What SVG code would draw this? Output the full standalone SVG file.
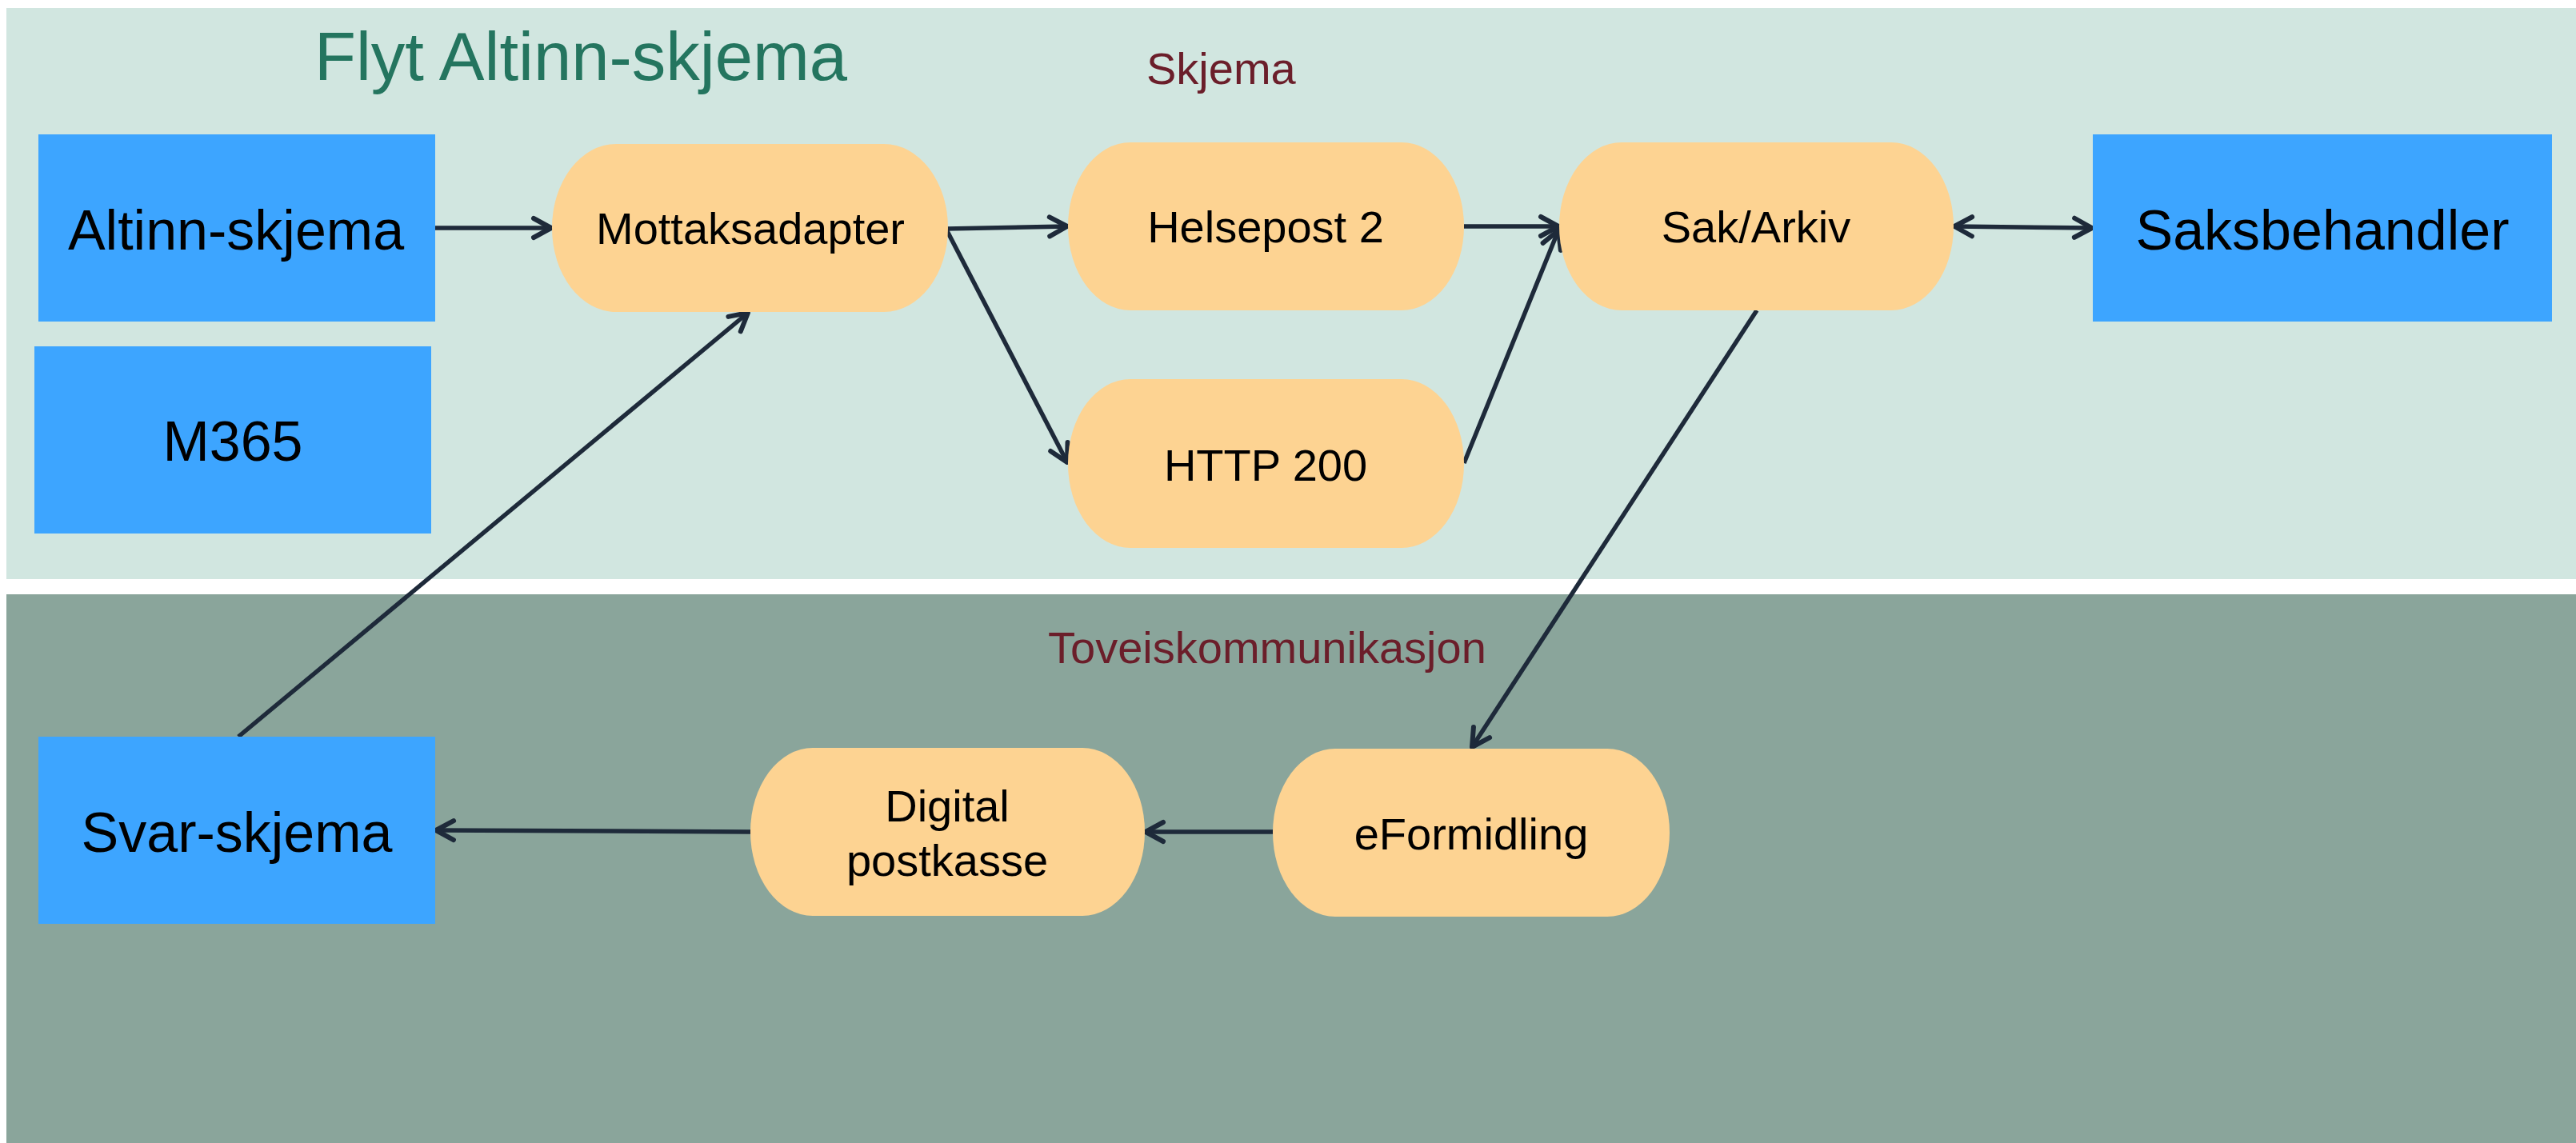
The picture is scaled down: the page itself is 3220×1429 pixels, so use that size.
<svg xmlns="http://www.w3.org/2000/svg" width="3220" height="1429" viewBox="0 0 3220 1429">
<style>
.band-top{fill:#D1E6E0}
.band-bot{fill:#8AA59B}
.box{fill:#3DA5FF}
.pill{fill:#FDD392}
.lbl{font-family:"Liberation Sans",Arial,sans-serif;fill:#000;text-anchor:middle}
.big{font-size:70px}
.mid{font-size:56px}
.sec{font-family:"Liberation Sans",Arial,sans-serif;font-size:56px;fill:#6B1E2A}
.conn{stroke:#1E2A3A;stroke-width:5.5;fill:none;stroke-linecap:butt}
</style>
<defs>
<marker id="ah" markerUnits="userSpaceOnUse" viewBox="-30 -16 36 32" refX="0" refY="0" markerWidth="36" markerHeight="32" orient="auto-start-reverse" overflow="visible">
<path d="M-22,-12 L0,0 L-22,12" fill="none" stroke="#1E2A3A" stroke-width="6" stroke-linecap="round" stroke-linejoin="round"/>
</marker>
</defs>
<rect width="3220" height="1429" fill="#FFFFFF"/>
<g id="lanes">
<rect class="band-top" x="8" y="10" width="3212" height="714"/>
<rect class="band-bot" x="8" y="743" width="3212" height="686"/>
<text x="393" y="100" font-family="'Liberation Sans',Arial,sans-serif" font-size="85" fill="#24755F">Flyt Altinn-skjema</text>
<text class="sec" x="1433" y="105">Skjema</text>
<text class="sec" x="1310" y="829">Toveiskommunikasjon</text>
</g>
<g id="connectors">
<line class="conn" x1="544" y1="285" x2="689" y2="285" marker-end="url(#ah)"/>
<line class="conn" x1="1183" y1="286" x2="1334" y2="283" marker-end="url(#ah)"/>
<line class="conn" x1="1183" y1="287" x2="1334" y2="578" marker-end="url(#ah)"/>
<line class="conn" x1="1830" y1="283" x2="1948" y2="283" marker-end="url(#ah)"/>
<line class="conn" x1="1830" y1="579" x2="1948" y2="288" marker-end="url(#ah)"/>
<line class="conn" x1="2443" y1="283" x2="2615" y2="285" marker-start="url(#ah)" marker-end="url(#ah)"/>
<line class="conn" x1="2196" y1="388" x2="1840" y2="934" marker-end="url(#ah)"/>
<line class="conn" x1="1591" y1="1040" x2="1432" y2="1040" marker-end="url(#ah)"/>
<line class="conn" x1="938" y1="1040" x2="545" y2="1038" marker-end="url(#ah)"/>
<line class="conn" x1="298" y1="921" x2="935" y2="391" marker-end="url(#ah)"/>
</g>
<g id="altinn-skjema">
<rect class="box" x="48" y="168" width="496" height="234"/>
<text class="lbl big" x="295" y="312">Altinn-skjema</text>
</g>
<g id="m365">
<rect class="box" x="43" y="433" width="496" height="234"/>
<text class="lbl big" x="291" y="576">M365</text>
</g>
<g id="saksbehandler">
<rect class="box" x="2616" y="168" width="574" height="234"/>
<text class="lbl big" x="2903" y="312">Saksbehandler</text>
</g>
<g id="svar-skjema">
<rect class="box" x="48" y="921" width="496" height="234"/>
<text class="lbl big" x="296" y="1065">Svar-skjema</text>
</g>
<g id="mottaksadapter">
<rect class="pill" x="690" y="180" width="495" height="210" rx="80" ry="105"/>
<text class="lbl mid" x="938" y="305">Mottaksadapter</text>
</g>
<g id="helsepost2">
<rect class="pill" x="1335" y="178" width="495" height="210" rx="78" ry="105"/>
<text class="lbl mid" x="1582" y="303">Helsepost 2</text>
</g>
<g id="http200">
<rect class="pill" x="1335" y="474" width="495" height="211" rx="78" ry="105"/>
<text class="lbl mid" x="1582" y="601">HTTP 200</text>
</g>
<g id="sak-arkiv">
<rect class="pill" x="1949" y="178" width="493" height="210" rx="78" ry="105"/>
<text class="lbl mid" x="2195" y="303">Sak/Arkiv</text>
</g>
<g id="digital-postkasse">
<rect class="pill" x="938" y="935" width="493" height="210" rx="78" ry="105"/>
<text class="lbl mid" x="1184" y="1027">Digital</text>
<text class="lbl mid" x="1184" y="1095">postkasse</text>
</g>
<g id="eformidling">
<rect class="pill" x="1591" y="936" width="496" height="210" rx="78" ry="105"/>
<text class="lbl mid" x="1839" y="1062">eFormidling</text>
</g>
</svg>
